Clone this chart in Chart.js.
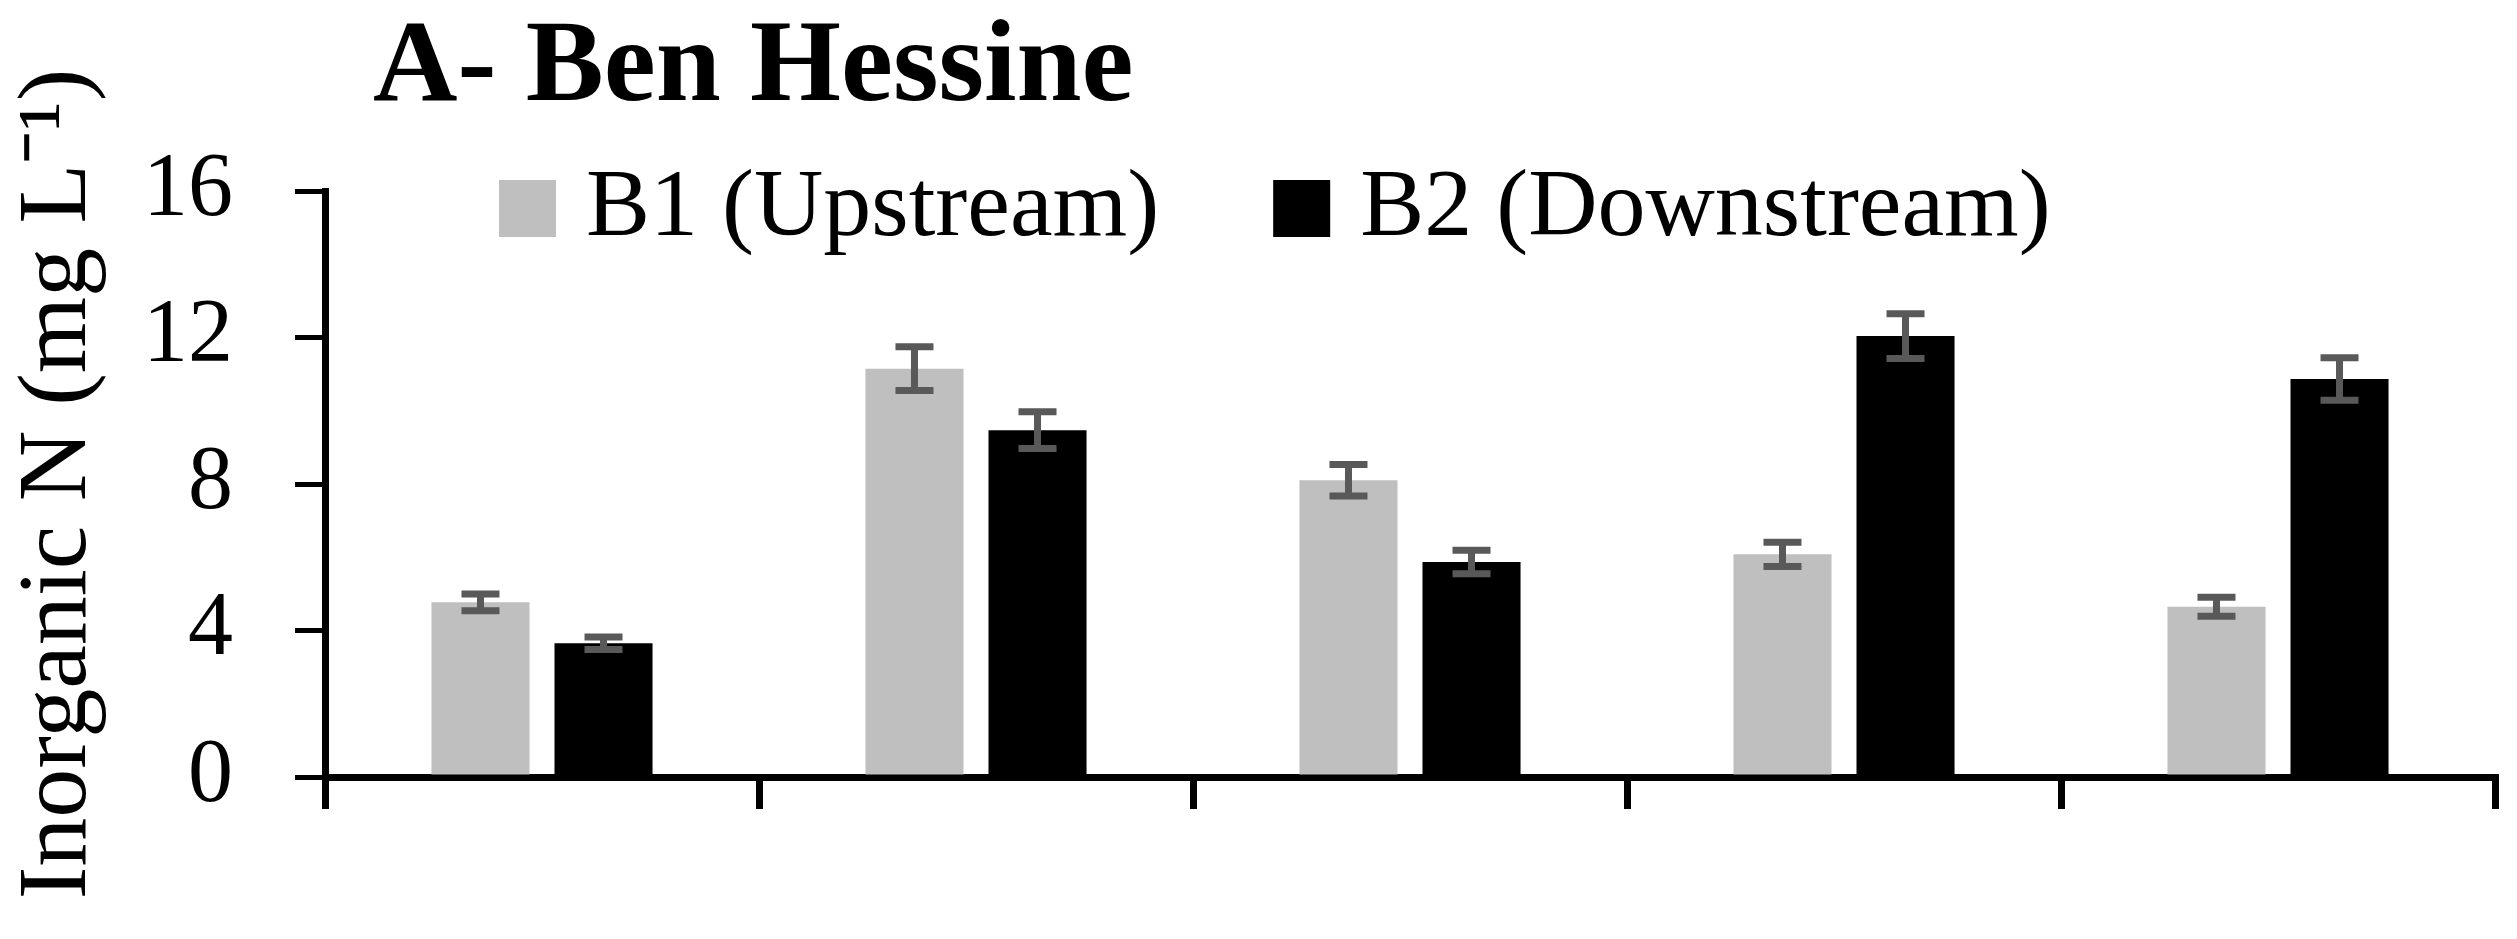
<!DOCTYPE html>
<html>
<head>
<meta charset="utf-8">
<script src="https://cdn.jsdelivr.net/npm/chart.js@4.4.1/dist/chart.umd.min.js"></script>
<style>
  html, body { margin: 0; padding: 0; background: #ffffff; overflow: hidden; }
  #wrap { width: 2517px; height: 939px; position: relative; }
</style>
</head>
<body>
<div id="wrap"><canvas id="c" width="2517" height="939"></canvas></div>
<script>
// ---- data ----
const categories = ['1', '2', '3', '4', '5'];
const seriesLabels = ['B1 (Upstream)', 'B2 (Downstream)'];
const b1Values = [4.77, 11.15, 8.10, 6.08, 4.65];
const b2Values = [3.65, 9.47, 5.87, 12.04, 10.87];
const b1Errors = [0.23, 0.60, 0.43, 0.33, 0.26];
const b2Errors = [0.17, 0.50, 0.32, 0.61, 0.58];
const yTickValues = [0, 4, 8, 12, 16];
const chartTitle = 'A- Ben Hessine';
const yAxisTitle = 'Inorganic N (mg L\u207B\u00B9)';

// ---- style ----
const FONT = "'Liberation Serif', 'Times New Roman', serif";
const COLORS = ['#BFBFBF', '#000000'];
const ERR_COLOR = '#595959';
const errorSets = [b1Errors, b2Errors];

Chart.defaults.color = '#000000';
Chart.defaults.font.family = FONT;

const errorBarPlugin = {
  id: 'errorBars',
  afterDatasetsDraw(chart) {
    const ctx = chart.ctx;
    const yScale = chart.scales.y;
    ctx.save();
    ctx.strokeStyle = ERR_COLOR;
    ctx.lineWidth = 7;
    ctx.lineCap = 'butt';
    chart.data.datasets.forEach((ds, di) => {
      const meta = chart.getDatasetMeta(di);
      const errs = errorSets[di];
      meta.data.forEach((bar, i) => {
        const v = ds.data[i];
        const e = errs[i];
        const yTop = yScale.getPixelForValue(v + e);
        const yBot = yScale.getPixelForValue(v - e);
        const x = bar.x;
        const half = 19;
        ctx.beginPath();
        ctx.moveTo(x, yTop);
        ctx.lineTo(x, yBot);
        ctx.moveTo(x - half, yTop);
        ctx.lineTo(x + half, yTop);
        ctx.moveTo(x - half, yBot);
        ctx.lineTo(x + half, yBot);
        ctx.stroke();
      });
    });
    ctx.restore();
  }
};

const layoutTweakPlugin = {
  id: 'layoutTweak',
  afterLayout(chart) {
    if (chart.titleBlock) {
      chart.titleBlock.left = 373;
    }
  }
};

const legendPlugin = {
  id: 'insideLegend',
  afterDraw(chart) {
    const ctx = chart.ctx;
    const box = 57;
    const gapText = 30;
    const gapItem = 114;
    const boxTop = chart.chartArea.top - 11;
    const baseline = boxTop + 55;
    let x = 499;
    ctx.save();
    ctx.font = '96px ' + FONT;
    ctx.textBaseline = 'alphabetic';
    ctx.textAlign = 'left';
    chart.data.datasets.forEach((ds) => {
      ctx.fillStyle = ds.backgroundColor;
      ctx.fillRect(x, boxTop, box, box);
      ctx.fillStyle = '#000000';
      const tx = x + box + gapText;
      ctx.fillText(ds.label, tx, baseline);
      x = tx + ctx.measureText(ds.label).width + gapItem;
    });
    ctx.restore();
  }
};

new Chart(document.getElementById('c'), {
  type: 'bar',
  data: {
    labels: categories,
    datasets: [
      { label: seriesLabels[0], data: b1Values, backgroundColor: COLORS[0], borderWidth: 0,
        categoryPercentage: 0.567, barPercentage: 0.797 },
      { label: seriesLabels[1], data: b2Values, backgroundColor: COLORS[1], borderWidth: 0,
        categoryPercentage: 0.567, barPercentage: 0.797 }
    ]
  },
  options: {
    responsive: false,
    devicePixelRatio: 1,
    animation: false,
    events: [],
    layout: { padding: { left: 0, right: 22, top: 0, bottom: 130 } },
    plugins: {
      legend: { display: false },
      tooltip: { enabled: false },
      title: {
        display: true,
        text: chartTitle,
        align: 'start',
        color: '#000000',
        font: { family: FONT, size: 117, weight: 'bold', lineHeight: 1.2 },
        padding: { top: 0, bottom: 50.6 }
      }
    },
    scales: {
      x: {
        type: 'category',
        offset: true,
        z: 1,
        grid: {
          display: true, offset: true, drawOnChartArea: false, drawTicks: true,
          tickLength: 32, lineWidth: 7, color: '#000000'
        },
        border: { display: true, color: '#000000', width: 7 },
        ticks: { display: false }
      },
      y: {
        min: 0,
        max: 16,
        z: 1,
        afterBuildTicks: (scale) => { scale.ticks = yTickValues.map(v => ({ value: v })); },
        afterFit: (scale) => { scale.width = 325; },
        grid: {
          display: true, drawOnChartArea: false, drawTicks: true,
          tickLength: 30, lineWidth: 5, color: '#000000'
        },
        border: { display: true, color: '#000000', width: 7 },
        ticks: {
          padding: 62,
          color: '#000000',
          font: { family: FONT, size: 90 }
        },
        title: {
          display: true,
          text: yAxisTitle,
          color: '#000000',
          font: { family: FONT, size: 98, lineHeight: 1.2 },
          padding: { top: 0, bottom: 0 }
        }
      }
    }
  },
  plugins: [errorBarPlugin, layoutTweakPlugin, legendPlugin]
});
</script>
</body>
</html>
